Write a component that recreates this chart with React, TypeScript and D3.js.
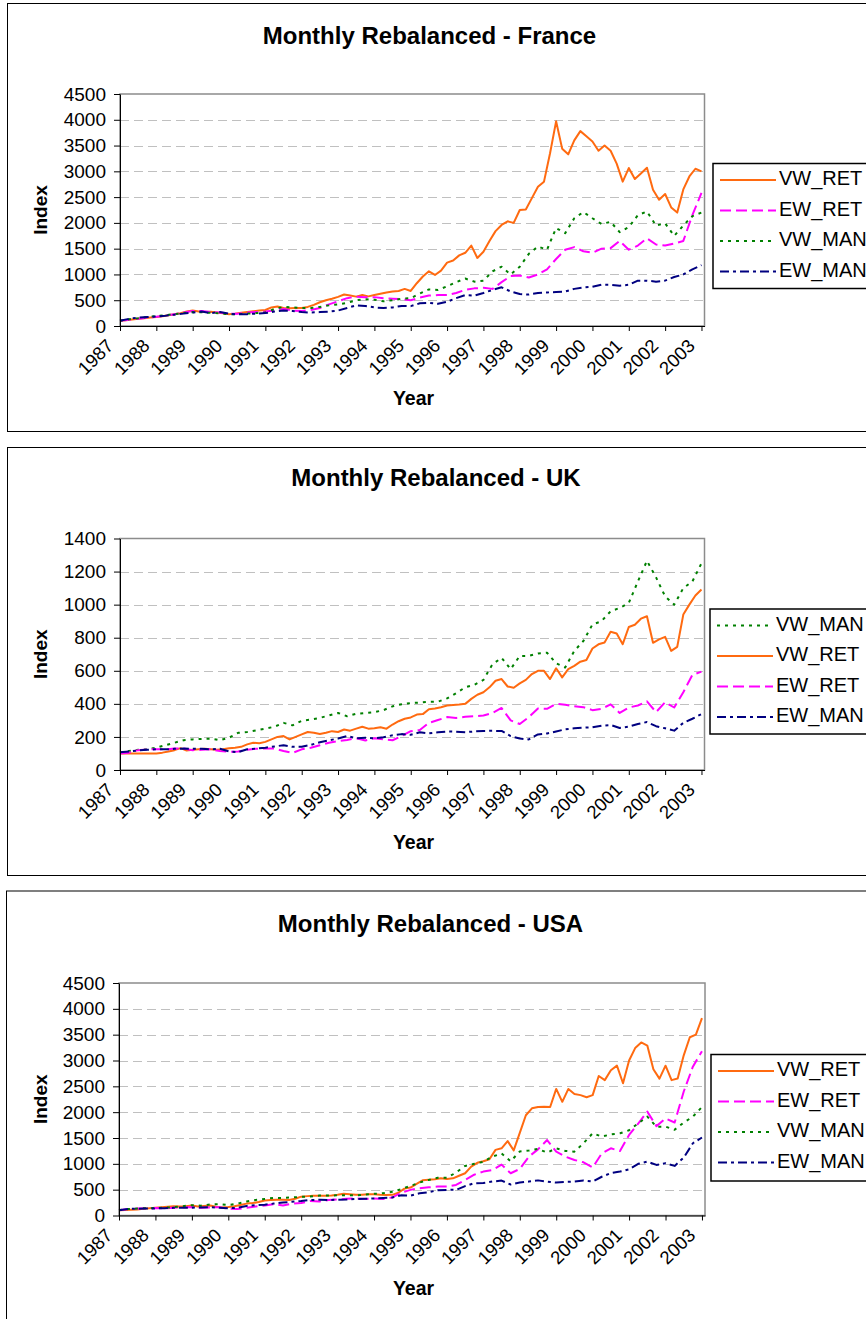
import React, { useEffect, useRef } from "react";
import * as d3 from "d3";

// x tick labels, one per January (every 12 months)
const yearLabels = ["1987", "1988", "1989", "1990", "1991", "1992", "1993", "1994", "1995",
  "1996", "1997", "1998", "1999", "2000", "2001", "2002", "2003"];

// VW_RET is read every 2 months, the other series every quarter (3 months)
const frVwRet = [100, 110, 125, 140, 150, 165, 175, 190, 210, 230, 250, 280,
  300, 280, 270, 275, 260, 245, 230, 240, 255, 270, 285, 300,
  310, 360, 380, 350, 345, 350, 350, 370, 410, 460, 500, 530,
  565, 610, 590, 570, 600, 575, 600, 625, 650, 670, 680, 720,
  680, 830, 960, 1060, 990, 1075, 1230, 1270, 1370, 1420, 1560, 1320,
  1440, 1650, 1840, 1960, 2030, 2000, 2250, 2260, 2480, 2700, 2800, 3350,
  3970, 3440, 3330, 3600, 3780, 3680, 3580, 3400, 3500, 3400, 3150, 2800,
  3064, 2850, 2960, 3070, 2643, 2450, 2560, 2300, 2200, 2650, 2900, 3050,
  3000];
const frEwRet = [100, 120, 140, 160, 180, 200, 230, 260, 290, 290, 270, 260,
  240, 240, 260, 270, 280, 300, 330, 300, 290, 310, 350, 420,
  480, 540, 570, 560, 560, 540, 530, 520, 500, 550, 590, 600,
  600, 640, 700, 730, 740, 720, 850, 970, 980, 940, 1000, 1100,
  1300, 1480, 1530, 1450, 1420, 1500, 1510, 1650, 1480, 1560, 1700, 1580,
  1560, 1600, 1650, 2150, 2580];
const frVwMan = [100, 130, 150, 175, 190, 210, 230, 250, 270, 265, 255, 245,
  230, 230, 240, 250, 260, 330, 370, 360, 350, 350, 370, 400,
  420, 450, 500, 520, 510, 480, 500, 530, 540, 630, 710, 700,
  770, 850, 920, 860, 880, 1060, 1150, 1000, 1150, 1400, 1540, 1480,
  1900, 1800, 2090, 2210, 2090, 1980, 2020, 1820, 1920, 2150, 2220, 1950,
  1990, 1750, 1950, 2130, 2200];
const frEwMan = [100, 140, 160, 175, 185, 200, 220, 240, 260, 280, 250, 270,
  240, 225, 230, 240, 250, 280, 300, 290, 270, 260, 270, 280,
  300, 350, 400, 390, 360, 350, 360, 390, 385, 440, 450, 430,
  470, 540, 600, 590, 640, 700, 750, 670, 620, 610, 640, 650,
  660, 670, 720, 750, 760, 800, 800, 780, 800, 880, 880, 860,
  880, 950, 1000, 1100, 1180];

const ukVwMan = [105, 115, 122, 125, 135, 150, 165, 180, 185, 188, 190, 180,
  195, 225, 230, 240, 250, 262, 285, 270, 298, 305, 315, 330,
  345, 325, 340, 345, 350, 362, 385, 398, 405, 408, 412, 413,
  433, 465, 500, 515, 545, 640, 678, 610, 690, 690, 705, 709,
  645, 620, 720, 780, 880, 900, 960, 980, 1010, 1140, 1265, 1165,
  1050, 1000, 1100, 1140, 1250];
const ukVwRet = [100, 100, 100, 100, 100, 100, 100, 105, 112, 120, 132, 118,
  122, 125, 128, 125, 122, 125, 132, 135, 140, 155, 165, 162,
  170, 185, 200, 205, 185, 200, 215, 230, 225, 218, 225, 235,
  230, 245, 238, 250, 262, 250, 252, 258, 250, 275, 295, 310,
  318, 335, 338, 368, 372, 380, 390, 393, 396, 400, 430, 455,
  470, 500, 540, 550, 505, 497, 524, 545, 580, 600, 600, 550,
  615, 560, 610, 630, 655, 665, 735, 760, 771, 836, 826, 761,
  865, 878, 915, 930, 769, 790, 805, 720, 745, 940, 1000, 1055,
  1092];
const ukEwRet = [100, 105, 120, 125, 125, 125, 130, 130, 120, 122, 125, 115,
  110, 112, 122, 128, 130, 130, 115, 103, 125, 135, 150, 165,
  175, 182, 192, 178, 192, 185, 180, 205, 235, 242, 285, 302,
  320, 315, 322, 325, 330, 345, 375, 300, 278, 320, 372, 370,
  400, 395, 385, 380, 362, 370, 397, 345, 378, 390, 415, 350,
  410, 378, 470, 575, 595];
const ukEwMan = [108, 112, 118, 122, 125, 125, 128, 130, 128, 128, 125, 128,
  112, 108, 125, 130, 135, 142, 150, 140, 140, 152, 168, 180,
  190, 205, 192, 195, 192, 198, 210, 217, 213, 228, 222, 228,
  233, 232, 229, 233, 236, 237, 236, 205, 190, 185, 215, 221,
  233, 246, 252, 256, 258, 268, 272, 254, 262, 278, 290, 265,
  252, 238, 285, 310, 338];

const usVwRet = [100, 108, 112, 118, 130, 140, 150, 160, 170, 180, 175, 180,
  195, 175, 185, 195, 170, 155, 165, 180, 205, 230, 240, 260,
  290, 300, 305, 305, 300, 325, 365, 375, 380, 380, 380, 385,
  400, 420, 410, 400, 400, 410, 410, 400, 395, 400, 440, 520,
  541, 610, 680, 690, 700, 721, 705, 720, 770, 818, 945, 1020,
  1050, 1090, 1270, 1300, 1440, 1260, 1600, 1940, 2074, 2100, 2106, 2100,
  2450, 2200, 2450, 2350, 2330, 2290, 2330, 2700, 2620, 2810, 2900, 2560,
  3000, 3240, 3350, 3290, 2830, 2650, 2900, 2620, 2650, 3100, 3450, 3500,
  3820];
const usEwRet = [100, 125, 135, 140, 145, 140, 150, 160, 160, 150, 155, 160,
  130, 125, 150, 175, 195, 220, 195, 230, 240, 280, 270, 300,
  310, 325, 330, 320, 330, 320, 350, 440, 496, 528, 545, 560,
  560, 592, 689, 790, 850, 880, 985, 818, 900, 1140, 1280, 1460,
  1236, 1140, 1075, 1030, 930, 1200, 1300, 1250, 1560, 1780, 2010, 1730,
  1880, 1800, 2400, 2880, 3180];
const usVwMan = [105, 125, 135, 140, 145, 150, 160, 180, 200, 190, 215, 220,
  200, 230, 270, 300, 320, 340, 340, 350, 360, 370, 385, 385,
  390, 390, 390, 405, 420, 430, 460, 510, 573, 637, 689, 730,
  730, 830, 960, 1000, 1040, 1140, 1200, 1050, 1240, 1256, 1288, 1217,
  1300, 1250, 1236, 1400, 1591, 1527, 1570, 1591, 1650, 1784, 1913, 1720,
  1720, 1660, 1800, 1913, 2100];
const usEwMan = [100, 128, 132, 135, 138, 140, 148, 150, 152, 155, 160, 150,
  140, 150, 185, 200, 210, 230, 250, 265, 280, 300, 305, 300,
  305, 310, 320, 325, 330, 340, 350, 390, 385, 430, 450, 490,
  496, 496, 570, 625, 630, 657, 676, 600, 637, 657, 680, 657,
  637, 650, 657, 676, 657, 750, 820, 850, 895, 1000, 1043, 979,
  1011, 960, 1120, 1398, 1510];

const FONT = "Arial, 'Liberation Sans', Helvetica, sans-serif";

const lineStyle: Record<string, { color: string; dash: string }> = {
  VW_RET: { color: "#ff6a10", dash: "none" },
  EW_RET: { color: "#ff00ff", dash: "11,5" },
  VW_MAN: { color: "#008000", dash: "3,5" },
  EW_MAN: { color: "#000080", dash: "9,4,3,4" },
};

const panels = [
  {
    title: "Monthly Rebalanced - France",
    box: { x: 7.5, y: 3.5, h: 428 },
    plot: { x0: 120, x1: 704.5, y0: 94, y1: 326 },
    yMax: 4500, yStep: 500,
    titleX: 429.5, titleY: 43.5, yearY: 404.5,
    legend: { x: 713, y: 163.5, h: 125 },
    series: [
      { name: "VW_RET", values: frVwRet, step: 2 },
      { name: "EW_RET", values: frEwRet, step: 3 },
      { name: "VW_MAN", values: frVwMan, step: 3 },
      { name: "EW_MAN", values: frEwMan, step: 3 },
    ],
  },
  {
    title: "Monthly Rebalanced - UK",
    box: { x: 7.5, y: 447.5, h: 428 },
    plot: { x0: 120, x1: 704.5, y0: 538.5, y1: 770 },
    yMax: 1400, yStep: 200,
    titleX: 436, titleY: 485.5, yearY: 849,
    legend: { x: 710, y: 609, h: 125 },
    series: [
      { name: "VW_MAN", values: ukVwMan, step: 3 },
      { name: "VW_RET", values: ukVwRet, step: 2 },
      { name: "EW_RET", values: ukEwRet, step: 3 },
      { name: "EW_MAN", values: ukEwMan, step: 3 },
    ],
  },
  {
    title: "Monthly Rebalanced - USA",
    box: { x: 6.5, y: 891, h: 460 },
    plot: { x0: 119, x1: 705, y0: 983, y1: 1215.5 },
    yMax: 4500, yStep: 500,
    titleX: 430.5, titleY: 931.5, yearY: 1295,
    legend: { x: 711, y: 1054.5, h: 126.5 },
    series: [
      { name: "VW_RET", values: usVwRet, step: 2 },
      { name: "EW_RET", values: usEwRet, step: 3 },
      { name: "VW_MAN", values: usVwMan, step: 3 },
      { name: "EW_MAN", values: usEwMan, step: 3 },
    ],
  },
];

function drawPanel(svg: any, p: any) {
  const g = svg.append("g");

  g.append("rect")
    .attr("x", p.box.x).attr("y", p.box.y)
    .attr("width", 950).attr("height", p.box.h)
    .attr("fill", "#fff").attr("stroke", "#000").attr("stroke-width", 1);

  const x = d3.scaleLinear().domain([0, 193]).range([p.plot.x0, p.plot.x1]);
  const y = d3.scaleLinear().domain([0, p.yMax]).range([p.plot.y1, p.plot.y0]);
  const yTicks = d3.range(0, p.yMax + 1, p.yStep);

  // dashed grid
  g.selectAll(".grid")
    .data(yTicks.filter((v) => v > 0 && v < p.yMax))
    .join("line")
    .attr("x1", p.plot.x0).attr("x2", p.plot.x1)
    .attr("y1", (d: number) => Math.round(y(d)) + 0.5)
    .attr("y2", (d: number) => Math.round(y(d)) + 0.5)
    .attr("stroke", "#c0c0c0").attr("stroke-width", 1)
    .attr("stroke-dasharray", "9,5");

  // plot frame
  g.append("rect")
    .attr("x", p.plot.x0).attr("y", p.plot.y0)
    .attr("width", p.plot.x1 - p.plot.x0).attr("height", p.plot.y1 - p.plot.y0)
    .attr("fill", "none").attr("stroke", "#8c8c8c").attr("stroke-width", 1.5);

  const line = d3.line<[number, number]>()
    .x((d) => x(d[0]))
    .y((d) => y(d[1]));

  p.series.forEach((s: any) => {
    const st = lineStyle[s.name];
    const pts: [number, number][] = s.values.map((v: number, i: number) => [i * s.step, v]);
    g.append("path")
      .attr("d", line(pts))
      .attr("fill", "none")
      .attr("stroke", st.color)
      .attr("stroke-width", 2)
      .attr("stroke-linejoin", "round")
      .attr("stroke-dasharray", st.dash);
  });

  // y axis
  const ya = g.append("g")
    .attr("transform", `translate(${p.plot.x0},0)`)
    .call(d3.axisLeft(y).tickValues(yTicks).tickFormat(d3.format("d"))
      .tickSize(6).tickSizeOuter(0).tickPadding(8));
  ya.select(".domain").attr("stroke", "#000");
  ya.selectAll("line").attr("stroke", "#000");
  ya.selectAll("text")
    .attr("font-family", FONT).attr("font-size", 19).attr("fill", "#000");

  // x axis
  const xa = g.append("g")
    .attr("transform", `translate(0,${p.plot.y1})`)
    .call(d3.axisBottom(x)
      .tickValues(d3.range(0, 193, 12))
      .tickFormat((d: any, i: number) => yearLabels[i])
      .tickSize(5).tickSizeOuter(0));
  xa.select(".domain").attr("stroke", "#000");
  xa.selectAll("line").attr("stroke", "#000");
  xa.selectAll("text")
    .attr("y", 0).attr("dy", 0)
    .attr("text-anchor", "end")
    .attr("transform", "translate(-6,21) rotate(-45)")
    .attr("font-family", FONT).attr("font-size", 18.5).attr("fill", "#000");

  // titles
  g.append("text")
    .attr("x", p.titleX).attr("y", p.titleY)
    .attr("text-anchor", "middle")
    .attr("font-family", FONT).attr("font-weight", "bold").attr("font-size", 24)
    .text(p.title);

  g.append("text")
    .attr("transform", `translate(47,${(p.plot.y0 + p.plot.y1) / 2}) rotate(-90)`)
    .attr("text-anchor", "middle")
    .attr("font-family", FONT).attr("font-weight", "bold").attr("font-size", 19)
    .text("Index");

  g.append("text")
    .attr("x", 413.5).attr("y", p.yearY)
    .attr("text-anchor", "middle")
    .attr("font-family", FONT).attr("font-weight", "bold").attr("font-size", 19.5)
    .text("Year");

  // legend
  const lg = g.append("g").attr("transform", `translate(${p.legend.x},${p.legend.y})`);
  lg.append("rect")
    .attr("width", 300).attr("height", p.legend.h)
    .attr("fill", "#fff").attr("stroke", "#000").attr("stroke-width", 1.5);
  p.series.forEach((s: any, i: number) => {
    const st = lineStyle[s.name];
    const iy = 16.5 + i * 30.5;
    lg.append("line")
      .attr("x1", 7).attr("x2", 63).attr("y1", iy).attr("y2", iy)
      .attr("stroke", st.color).attr("stroke-width", 2)
      .attr("stroke-dasharray", st.dash);
    lg.append("text")
      .attr("x", 66).attr("y", iy + 5)
      .attr("font-family", FONT).attr("font-size", 20).attr("fill", "#000")
      .text(s.name);
  });
}

export default function App() {
  const ref = useRef<SVGSVGElement>(null);

  useEffect(() => {
    const svg = d3.select(ref.current);
    svg.selectAll("*").remove();
    svg.append("rect").attr("width", 866).attr("height", 1319).attr("fill", "#fff");
    panels.forEach((p) => drawPanel(svg, p));
  }, []);

  return (
    <div style={{ position: "absolute", left: 0, top: 0 }}>
      <svg ref={ref} width={866} height={1319} style={{ display: "block" }} />
    </div>
  );
}
